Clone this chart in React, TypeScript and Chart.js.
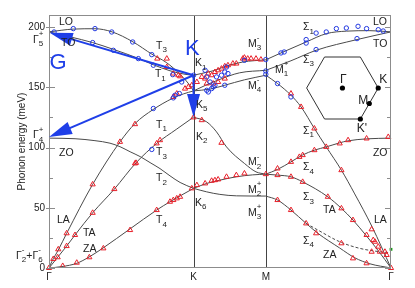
import { useEffect, useRef } from 'react';
import { Chart, registerables } from 'chart.js';
Chart.register(...registerables);

const PATH_TICKS = [0, 1, 1.5, 2.366];
const PATH_LABELS = ['Γ', 'K', 'M', 'Γ'];
const Y_TICKS = [0, 50, 100, 150, 200];
const Y_MINOR = [25, 75, 125, 175];

// Γ–K branches
const GK_LO = [[0,196.0],[0.168,198.3],[0.318,198.6],[0.436,196.0],[0.581,187.7],[0.713,177.4],[0.810,170.7],[0.892,162.5],[0.962,153.5],[1,147]];
const GK_TO = [[0,196.0],[0.145,191.9],[0.302,187.1],[0.445,181.5],[0.618,174.0],[0.722,168.7],[0.837,163.7],[0.941,160.8],[1,160]];
const GK_LA = [[0,0],[0.019,5.2],[0.064,14.9],[0.122,28.7],[0.302,69.4],[0.491,104.7],[0.595,119.9],[0.720,131.5],[0.856,140.9],[0.93,144.5],[1,147]];
const GK_TA = [[0,0],[0.122,18.2],[0.180,27.4],[0.302,45.8],[0.452,65.5],[0.602,87.3],[0.745,103.4],[0.88,115],[1,125.2]];
const GK_ZO = [[0,107.8],[0.180,107.3],[0.318,105.7],[0.422,103.6],[0.491,100.7],[0.561,96.5],[0.63,92.5],[0.699,87.5],[0.768,82.5],[0.837,76.5],[0.907,71],[1,66.1]];
const GK_ZA = [[0,0],[0.09,1.2],[0.192,3.9],[0.277,9.1],[0.374,16.6],[0.561,32.5],[0.745,48.1],[0.837,55.0],[1,66.1]];
// K–M branches
const KM_A = [[1,160],[1.057,161.5],[1.148,164.1],[1.216,167.2],[1.341,171.0],[1.5,172.8]];
const KM_B = [[1,147],[1.080,151.5],[1.170,156],[1.318,162],[1.5,164.1]];
const KM_C = [[1,147],[1.114,148.5],[1.216,151.7],[1.352,156.2],[1.5,160]];
const KM_D = [[1,125.2],[1.091,121.3],[1.159,113],[1.228,100.5],[1.352,86.8],[1.432,79.8],[1.5,77.9]];
const KM_E = [[1,66.1],[1.091,70.2],[1.182,72.9],[1.296,75.7],[1.409,77.3],[1.5,77.9]];
const KM_F = [[1,66.1],[1.091,63.2],[1.182,61.1],[1.296,59.9],[1.5,59.7]];
// M–Γ branches
const MG_LO = [[1.5,172.8],[1.614,179.0],[1.779,187.6],[1.918,194.5],[2.057,196.6],[2.22,197.0],[2.366,196.0]];
const MG_TO = [[1.5,164.1],[1.674,172.0],[1.848,180.7],[2.131,189.6],[2.366,196.0]];
const MG_LA = [[1.5,160],[1.581,153.1],[1.674,143.4],[1.744,133.7],[1.836,115.8],[1.918,100.5],[2.023,81.2],[2.115,61.5],[2.234,34.5],[2.366,0]];
const MG_ZO = [[1.5,77.9],[1.581,81.8],[1.674,88.1],[1.753,93.7],[1.836,97.8],[1.918,100.5],[2.011,103.9],[2.066,105.5],[2.197,107.2],[2.366,107.8]];
const MG_TA = [[1.5,77.9],[1.581,77.1],[1.674,75.7],[1.755,71.5],[1.929,59.1],[2.023,49.5],[2.103,39.8],[2.197,26.5],[2.28,14],[2.366,0]];
const MG_ZA = [[1.5,59.7],[1.581,56.4],[1.674,48.1],[1.779,37],[1.86,28.8],[2.011,16.6],[2.115,8.5],[2.22,3.5],[2.366,0]];
const MG_DASH = [[1.779,37],[1.86,31.5],[2.011,21.8],[2.15,16.3],[2.289,13.5],[2.366,12.7]];

const RED_PTS = [
[0,0],[0.030,7.5],[0.060,8.9],[0.064,15.5],[0.122,18.2],[0.122,28.8],[0.180,27.4],[0.095,1.7],[0.192,4.4],[0.279,8.9],[0.302,45.8],[0.302,69.4],[0.376,16.3],[0.452,65.5],[0.561,31.5],[0.602,87.3],[0.491,104.7],[0.595,119.4],[0.595,86.8],[0.768,106.1],[0.745,103.4],[0.745,48.1],[0.837,55.0],[0.860,56.4],[0.884,57.8],[0.907,59.1],[0.988,66.1],[1,125],
[0.749,173.8],[0.815,173.8],[0.815,166.8],[0.860,161.4],[0.895,160.0],[0.907,159.1],[0.964,150.3],[0.988,151.7],[0.860,142.0],[0.884,144.8],[0.941,148.9],
[1.023,154.4],[1.057,158.6],[1.080,157.2],[1.102,161.4],[1.125,160.0],[1.148,162.7],[1.170,164.1],[1.193,165.5],[1.216,167.4],[1.238,168.3],[1.272,169.7],[1.296,169.7],[1.341,173.8],[1.352,174.6],[1.375,173.8],[1.398,173.8],[1.432,173.8],[1.091,153.1],[1.136,153.1],[1.170,154.4],[1.216,157.2],[1.057,122.7],[1.193,103.9],[1.023,68.8],[1.080,70.2],[1.125,72.4],[1.148,72.9],[1.170,73.5],[1.228,75.7],[1.296,77.1],[1.352,78.5],[1.5,77.9],[1.466,173.0],
[1.674,144.8],[1.744,133.7],[1.836,115.8],[1.918,100.5],[2.011,103.4],[2.069,106.1],[2.197,107.5],[2.347,108.8],[1.581,82.6],[1.674,88.1],[1.732,92.2],[1.755,93.7],[1.836,97.8],[1.581,77.1],[1.674,75.7],[1.755,71.5],[1.929,59.1],[2.023,49.5],[2.103,39.8],[2.197,27.4],[2.232,32.1],[1.581,56.4],[1.674,48.1],[1.779,37.0],[1.848,28.8],[2.023,81.2],[2.023,20.5],[2.103,8.0],[2.197,3.9],[2.243,23.2],[2.255,21.8],[2.278,17.7],[2.289,13.5],[2.324,13.5],[2.336,10.8],[2.366,0],[2.232,13.5]
];
const BLUE_PTS = [
[0.035,195.9],[0.168,198.7],[0.318,198.7],[0.434,195.9],[0.302,187.1],[0.445,180.7],[0.579,187.6],[0.618,173.8],[0.711,177.1],[0.722,168.3],[0.856,160.5],[0.918,154.4],[0.722,132.4],[0.860,141.2],[0.872,143.4],[0.902,144.8],[0.711,98.4],[1,160],
[1.080,164.1],[1.091,158.6],[1.114,154.4],[1.159,158.6],[1.193,160.0],[1.216,162.7],[1.228,166.8],[1.238,161.4],[1.091,147.5],[1.102,146.1],[1.125,148.9],[1.136,150.3],[1.148,151.7],[1.216,151.7],[1.352,172.4],[1.5,173.0],[1.5,163.5],[1.5,160.8],
[1.605,178.5],[1.627,179.3],[1.779,189.6],[1.779,186.7],[1.848,195.0],[1.918,195.9],[1.988,198.7],[2.057,199.2],[2.138,200.6],[2.197,198.7],[2.278,197.8],[2.312,196.7],[1.848,181.3],[2.131,190.4],[1.581,153.1],[1.674,142.0]
];
const GREEN_PTS = [[2.366,15.5]];

// annotations: tokens (prefix _ = subscript, ^ = superscript), x, y in data units
const LABELS: [string[], number, number][] = [
  [['LO'], 0.069, 204.2], [['TO'], 0.083, 186.8], [['Γ','_5','^+'], -0.111, 189.2],
  [['T','_3'], 0.740, 184.3], [['T','_1'], 0.733, 160.6],
  [['K','_1'], 1.010, 169.9], [['K','_5'], 1.017, 135.3], [['K','_2'], 1.017, 108.7], [['K','_6'], 1.010, 54.0],
  [['M','_3','^-'], 1.377, 185.9], [['M','_1','^+'], 1.564, 164.3], [['M','_4','^-'], 1.377, 151.1],
  [['M','_2','^-'], 1.377, 87.6], [['M','_2','^+'], 1.377, 64.7], [['M','_3','^+'], 1.377, 45.7],
  [['Σ','_1'], 1.757, 199.6], [['Σ','_3'], 1.757, 172.6], [['LO'], 2.241, 204.2], [['TO'], 2.241, 186.2],
  [['Σ','_1'], 1.757, 113.7], [['ZO'], 2.241, 95.7], [['Σ','_4'], 1.757, 83.4], [['Σ','_3'], 1.757, 58.5],
  [['TA'], 1.896, 48.1], [['LA'], 2.248, 39.8], [['Σ','_4'], 1.757, 22.4], [['ZA'], 1.896, 10.8],
  [['ZO'], 0.069, 95.2], [['LA'], 0.055, 39.8], [['TA'], 0.235, 29.1], [['ZA'], 0.235, 15.8],
  [['Γ','_2','^-','+Γ','_6','^-'], -0.228, 10.0], [['Γ','_4','^+'], -0.111, 110.0],
  [['T','_1'], 0.740, 118.7], [['T','_3'], 0.740, 95.9], [['T','_2'], 0.740, 74.5], [['T','_4'], 0.740, 39.4],
];
const HEX_LABELS: [string, number, number][] = [['Γ', 2.013, 156.5], ['K', 2.285, 156.5], ['M', 2.140, 138.6], ["K'", 2.129, 115.4]];
const BIG_LABELS: [string, number, number][] = [['G', 0.003, 170.6], ['K', 0.941, 182.2]];
const ARROWS = [[1, 160, 0.005, 195.3], [1, 160, 0, 108.7], [1, 160, 1, 125.4]];
const HEX_CENTER = [2.030, 149.4];

const FONT = '"Liberation Sans", Arial, sans-serif';
const CURVE = '#4a4a4a';
const RED = '#e8202a';
const BLUE = '#2238e0';
const ARROW_BLUE = '#1f3fe8';
const FRAME = '#8c8c8c';

function drawTokens(ctx: CanvasRenderingContext2D, tokens: string[], x: number, y: number, size: number) {
  ctx.textBaseline = 'middle';
  ctx.textAlign = 'left';
  let cx = x; let start = x; let prevScript = false;
  for (const t of tokens) {
    if (t[0] === '_' || t[0] === '^') {
      const s = t.slice(1);
      ctx.font = `${Math.round(size * 0.75)}px ${FONT}`;
      if (!prevScript) start = cx;
      const dy = t[0] === '_' ? size * 0.4 : -size * 0.55;
      ctx.fillText(s, start, y + dy);
      cx = Math.max(cx, start + ctx.measureText(s).width);
      prevScript = true;
    } else {
      ctx.font = `${size}px ${FONT}`;
      ctx.fillText(t, cx, y);
      cx += ctx.measureText(t).width;
      prevScript = false;
    }
  }
}

function arrow(ctx: CanvasRenderingContext2D, x0: number, y0: number, x1: number, y1: number, head = 23, hw = 6.5) {
  const dx = x1 - x0, dy = y1 - y0, L = Math.hypot(dx, dy);
  const ux = dx / L, uy = dy / L;
  const bx = x1 - ux * head, by = y1 - uy * head;
  ctx.beginPath(); ctx.moveTo(x0, y0); ctx.lineTo(bx + ux * 3, by + uy * 3); ctx.stroke();
  ctx.beginPath(); ctx.moveTo(x1, y1);
  ctx.lineTo(bx - uy * hw, by + ux * hw); ctx.lineTo(bx + uy * hw, by - ux * hw);
  ctx.closePath(); ctx.fill();
}

const deco = {
  id: 'deco',
  beforeDatasetsDraw(chart: any) {
    const { ctx, chartArea: a, scales } = chart;
    ctx.save();
    ctx.strokeStyle = '#444'; ctx.lineWidth = 1;
    for (const v of [PATH_TICKS[1], PATH_TICKS[2]]) {
      const px = Math.round(scales.x.getPixelForValue(v)) + 0.5;
      ctx.beginPath(); ctx.moveTo(px, a.top); ctx.lineTo(px, a.bottom); ctx.stroke();
    }
    ctx.restore();
  },
  afterDatasetsDraw(chart: any) {
    const { ctx, chartArea: a, scales } = chart;
    const X = (v: number) => scales.x.getPixelForValue(v);
    const Y = (v: number) => scales.y.getPixelForValue(v);
    ctx.save();
    // frame
    ctx.strokeStyle = FRAME; ctx.lineWidth = 1;
    ctx.strokeRect(a.left + 0.5, a.top + 0.5, a.right - a.left - 1, a.bottom - a.top - 1);
    // ticks
    ctx.beginPath();
    for (const v of Y_TICKS) {
      const py = Math.round(Y(v)) + 0.5;
      ctx.moveTo(a.left - 3, py); ctx.lineTo(a.left + 6, py);
      ctx.moveTo(a.right - 6, py); ctx.lineTo(a.right, py);
    }
    for (const v of Y_MINOR) {
      const py = Math.round(Y(v)) + 0.5;
      ctx.moveTo(a.left, py); ctx.lineTo(a.left + 4, py);
      ctx.moveTo(a.right - 4, py); ctx.lineTo(a.right, py);
    }
    ctx.stroke();
    // y title
    ctx.save();
    ctx.translate(22, (a.top + a.bottom) / 2);
    ctx.rotate(-Math.PI / 2);
    ctx.fillStyle = '#222'; ctx.font = `10px ${FONT}`;
    ctx.textAlign = 'center'; ctx.textBaseline = 'middle';
    ctx.fillText('Phonon energy (meV)', 0, 0);
    ctx.restore();
    // arrows
    ctx.strokeStyle = ARROW_BLUE; ctx.fillStyle = ARROW_BLUE; ctx.lineWidth = 2;
    for (const [x0, y0, x1, y1] of ARROWS) arrow(ctx, X(x0), Y(y0), X(x1), Y(y1));
    // labels
    ctx.fillStyle = '#222';
    for (const [tok, x, y] of LABELS) drawTokens(ctx, tok, X(x), Y(y), 10.5);
    ctx.fillStyle = ARROW_BLUE;
    for (const [t, x, y] of BIG_LABELS) drawTokens(ctx, [t], X(x), Y(y), 22);
    // hexagon inset
    const cx = X(HEX_CENTER[0]), cy = Y(HEX_CENTER[1]), r = 35.8;
    ctx.strokeStyle = '#333'; ctx.lineWidth = 1;
    ctx.beginPath();
    for (let i = 0; i < 6; i++) {
      const ang = (i * Math.PI) / 3;
      const px = cx + r * Math.cos(ang), py = cy + r * Math.sin(ang);
      if (i === 0) ctx.moveTo(px, py); else ctx.lineTo(px, py);
    }
    ctx.closePath(); ctx.stroke();
    const kx = cx + r, ky = cy;
    const k2x = cx + r * Math.cos(Math.PI / 3), k2y = cy + r * Math.sin(Math.PI / 3);
    ctx.fillStyle = '#000';
    for (const [px, py] of [[cx, cy], [kx, ky], [(kx + k2x) / 2, (ky + k2y) / 2], [k2x, k2y]]) {
      ctx.beginPath(); ctx.arc(px, py, 2.6, 0, Math.PI * 2); ctx.fill();
    }
    ctx.fillStyle = '#222';
    for (const [t, x, y] of HEX_LABELS) drawTokens(ctx, [t], X(x), Y(y), 12);
    ctx.restore();
  },
};

const pts = (arr: number[][]) => arr.map(([x, y]) => ({ x, y }));
const curve = (arr: number[][], dashed = false) => ({
  data: pts(arr), showLine: true, borderColor: CURVE, borderWidth: 1, pointRadius: 0,
  cubicInterpolationMode: 'monotone', borderDash: dashed ? [3, 2] : [], order: 3,
});

export default function App() {
  const ref = useRef<HTMLCanvasElement>(null);
  useEffect(() => {
    document.body.style.margin = '0';
    const curves = [GK_LO, GK_TO, GK_LA, GK_TA, GK_ZO, GK_ZA, KM_A, KM_B, KM_C, KM_D, KM_E, KM_F, MG_LO, MG_TO, MG_LA, MG_ZO, MG_TA, MG_ZA].map((c) => curve(c));
    const datasets: any[] = [
      ...curves,
      curve(MG_DASH, true),
      { data: pts(RED_PTS), showLine: false, pointStyle: 'triangle', pointRadius: 3, pointBorderColor: RED, pointBackgroundColor: 'rgba(0,0,0,0)', pointBorderWidth: 1, order: 1, clip: false },
      { data: pts(BLUE_PTS), showLine: false, pointStyle: 'circle', pointRadius: 2.2, pointBorderColor: BLUE, pointBackgroundColor: 'rgba(0,0,0,0)', pointBorderWidth: 1, order: 0, clip: false },
      { data: pts(GREEN_PTS), showLine: false, pointStyle: 'rect', pointRadius: 2, pointBorderColor: '#1a9a1a', pointBackgroundColor: '#1a9a1a', pointBorderWidth: 0, order: 0, clip: false },
    ];
    const tickFont = { family: FONT, size: 10 };
    const chart = new Chart(ref.current as HTMLCanvasElement, {
      type: 'scatter',
      data: { datasets },
      options: {
        animation: false, responsive: false, maintainAspectRatio: false, events: [],
        layout: { padding: { top: 15, right: 24, left: 0, bottom: 0 } },
        plugins: { legend: { display: false }, tooltip: { enabled: false } },
        scales: {
          x: {
            type: 'linear', min: 0, max: PATH_TICKS[3],
            grid: { display: false, drawTicks: false }, border: { display: false },
            afterBuildTicks: (s: any) => { s.ticks = PATH_TICKS.map((v) => ({ value: v })); },
            afterFit: (s: any) => { s.height = 20; },
            ticks: { autoSkip: false, maxRotation: 0, padding: 3, color: '#222', font: tickFont, callback: (_v: any, i: number) => PATH_LABELS[i] },
          },
          y: {
            type: 'linear', min: 0, max: 210,
            grid: { display: false, drawTicks: false }, border: { display: false },
            afterBuildTicks: (s: any) => { s.ticks = Y_TICKS.map((v) => ({ value: v })); },
            afterFit: (s: any) => { s.width = 49; },
            ticks: { padding: 4, color: '#222', font: tickFont, callback: (v: any) => String(v) },
          },
        },
      } as any,
      plugins: [deco],
    });
    return () => chart.destroy();
  }, []);
  return <canvas ref={ref} width={415} height={288} style={{ display: 'block', width: 415, height: 288 }} />;
}
